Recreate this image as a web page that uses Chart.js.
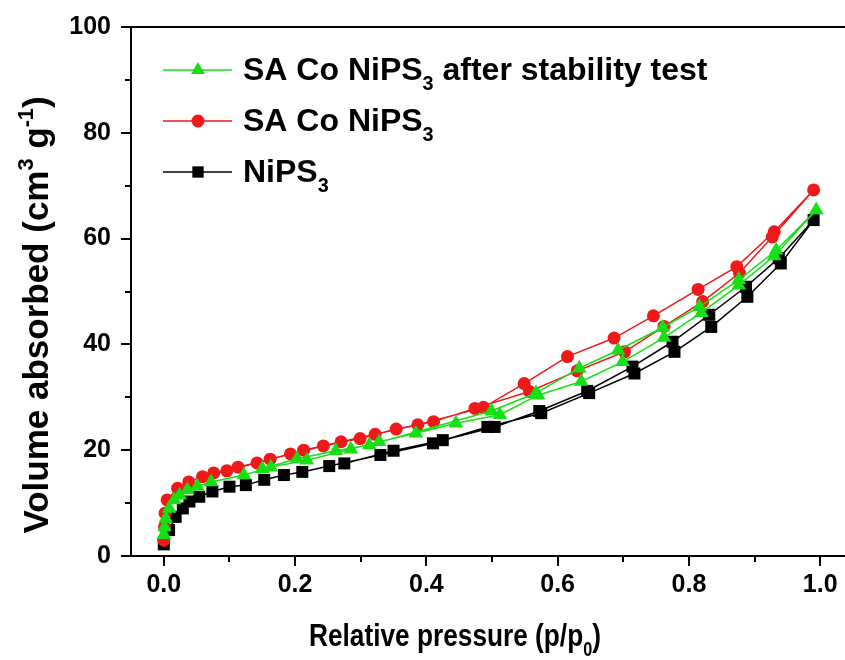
<!DOCTYPE html>
<html>
<head>
<meta charset="utf-8">
<script src="https://cdn.jsdelivr.net/npm/chart.js@4.4.0/dist/chart.umd.min.js"></script>
<style>
  html, body { margin: 0; padding: 0; background: #fff; overflow: hidden; }
  #isoChart { position: absolute; left: 0; top: 0; }
</style>
</head>
<body>
<canvas id="isoChart" width="880" height="660"></canvas>
<script>
// isotherm data, adsorption branch then desorption branch (p/p0, cm3/g)
const stabPressure = [0.0, 0.001, 0.003, 0.008, 0.016, 0.024, 0.036, 0.051, 0.072, 0.122, 0.163, 0.218, 0.285, 0.328, 0.384, 0.445, 0.512, 0.570, 0.636, 0.699, 0.762, 0.819, 0.876, 0.930, 0.994,
  0.933, 0.876, 0.816, 0.760, 0.692, 0.633, 0.567, 0.499, 0.313, 0.262, 0.203, 0.150];
const stabVolume = [4.0, 5.5, 7.1, 9.0, 10.6, 11.5, 12.5, 13.2, 14.0, 15.3, 16.8, 18.1, 20.2, 21.6, 23.2, 25.1, 26.7, 30.4, 33.0, 36.7, 41.3, 46.0, 51.2, 56.7, 65.4,
  57.8, 52.2, 47.1, 43.2, 38.9, 35.5, 30.8, 27.4, 21.0, 19.9, 18.4, 16.5];

const coPressure = [0.0, 0.001, 0.002, 0.005, 0.021, 0.038, 0.059, 0.096, 0.142, 0.193, 0.243, 0.299, 0.354, 0.411, 0.474, 0.557, 0.630, 0.702, 0.762, 0.821, 0.877, 0.927, 0.990,
  0.930, 0.873, 0.814, 0.746, 0.686, 0.615, 0.549, 0.487, 0.387, 0.322, 0.270, 0.213, 0.162, 0.113, 0.076];
const coVolume = [3.0, 5.5, 8.1, 10.6, 12.8, 14.0, 15.0, 16.1, 17.6, 19.3, 20.8, 22.2, 24.0, 25.4, 27.9, 31.1, 35.0, 38.6, 43.4, 48.1, 53.5, 60.3, 69.2,
  61.3, 54.7, 50.4, 45.4, 41.2, 37.7, 32.6, 28.1, 24.8, 23.0, 21.6, 20.0, 18.3, 16.8, 15.7];

const niPressure = [0.0, 0.008, 0.018, 0.029, 0.039, 0.054, 0.074, 0.100, 0.125, 0.153, 0.183, 0.211, 0.252, 0.330, 0.410, 0.493, 0.575, 0.648, 0.717, 0.778, 0.834, 0.889, 0.940, 0.990,
  0.937, 0.887, 0.831, 0.775, 0.714, 0.645, 0.572, 0.504, 0.425, 0.350, 0.275];
const niVolume = [2.2, 4.9, 7.4, 9.0, 10.3, 11.2, 12.2, 13.1, 13.4, 14.4, 15.3, 15.9, 17.0, 19.1, 21.3, 24.4, 27.0, 30.8, 34.5, 38.6, 43.3, 49.0, 55.3, 63.5,
  56.3, 50.9, 45.6, 40.5, 35.8, 31.2, 27.4, 24.4, 21.9, 19.9, 17.5];

const xTickValues = [0, 0.2, 0.4, 0.6, 0.8, 1.0];
const xMinorValues = [0.1, 0.3, 0.5, 0.7, 0.9];
const yTickValues = [0, 20, 40, 60, 80, 100];
const yMinorValues = [10, 30, 50, 70, 90];

const FONT = '"Liberation Sans", Arial, sans-serif';
const GREEN = "#14e014";
const RED = "#f01818";

function toPoints(xs, ys) {
  return xs.map((x, i) => ({ x: x, y: ys[i] }));
}

// text with sub/superscripts, optionally squeezed horizontally
function drawRich(ctx, parts, x, y, size, align, sx) {
  sx = sx || 1;
  let total = 0;
  parts.forEach(p => {
    ctx.font = "bold " + (p.sub || p.sup ? size * 0.62 : size) + "px " + FONT;
    total += ctx.measureText(p.t).width;
  });
  ctx.save();
  ctx.translate(x, y);
  ctx.scale(sx, 1);
  let cx = align === "center" ? -total / 2 : 0;
  ctx.textAlign = "left";
  ctx.textBaseline = "alphabetic";
  parts.forEach(p => {
    ctx.font = "bold " + (p.sub || p.sup ? size * 0.62 : size) + "px " + FONT;
    let dy = 0;
    if (p.sub) dy = size * 0.3;
    if (p.sup) dy = -size * 0.42;
    ctx.fillText(p.t, cx, dy);
    cx += ctx.measureText(p.t).width;
  });
  ctx.restore();
}

const legendItems = [
  { color: GREEN, style: "triangle", radius: 8, parts: [{ t: "SA Co NiPS" }, { t: "3", sub: true }, { t: " after stability test" }] },
  { color: RED, style: "circle", radius: 6.5, parts: [{ t: "SA Co NiPS" }, { t: "3", sub: true }] },
  { color: "#000", style: "rect", radius: 8, parts: [{ t: "NiPS" }, { t: "3", sub: true }] }
];

const decorPlugin = {
  id: "decor",
  afterDraw(chart) {
    const { ctx, chartArea, scales } = chart;
    const xs = scales.x, ys = scales.y;
    ctx.save();
    ctx.strokeStyle = "#000";
    ctx.lineWidth = 2;
    ctx.beginPath();
    ctx.moveTo(chartArea.left - 1, chartArea.top);
    ctx.lineTo(chart.width, chartArea.top);
    ctx.stroke();

    ctx.beginPath();
    xMinorValues.forEach(v => {
      const px = Math.round(xs.getPixelForValue(v));
      ctx.moveTo(px, chartArea.bottom);
      ctx.lineTo(px, chartArea.bottom + 6);
    });
    yMinorValues.forEach(v => {
      const py = Math.round(ys.getPixelForValue(v));
      ctx.moveTo(chartArea.left, py);
      ctx.lineTo(chartArea.left - 6, py);
    });
    ctx.stroke();

    ctx.fillStyle = "#000";
    // axis titles
    drawRich(ctx, [{ t: "Relative pressure (p/p" }, { t: "0", sub: true }, { t: ")" }], 455, 646, 32, "center", 0.82);
    ctx.save();
    ctx.translate(48, 315);
    ctx.rotate(-Math.PI / 2);
    drawRich(ctx, [{ t: "Volume absorbed (cm" }, { t: "3", sup: true }, { t: " g" }, { t: "-1", sup: true }, { t: ")" }], 0, 0, 35, "center");
    ctx.restore();

    // legend
    legendItems.forEach((item, i) => {
      const y = 70 + i * 51;
      ctx.strokeStyle = item.color;
      ctx.lineWidth = 1.5;
      ctx.beginPath();
      ctx.moveTo(163, y);
      ctx.lineTo(232, y);
      ctx.stroke();
      ctx.fillStyle = item.color;
      Chart.helpers.drawPoint(ctx, { pointStyle: item.style, radius: item.radius, borderWidth: 0, rotation: 0 }, 198, y);
      ctx.fillStyle = "#000";
      drawRich(ctx, item.parts, 243, y + 10, 32, "left");
    });
    ctx.restore();
  }
};

function makeSet(label, xs, ys, color, style, radius, order) {
  return {
    label: label,
    data: toPoints(xs, ys),
    showLine: true,
    borderColor: color,
    borderWidth: 1.5,
    backgroundColor: color,
    pointBackgroundColor: color,
    pointBorderColor: color,
    pointBorderWidth: 0,
    pointStyle: style,
    pointRadius: radius,
    pointHoverRadius: radius,
    tension: 0,
    order: order
  };
}

const chartCanvas = document.getElementById("isoChart");
const isoChart = new Chart(chartCanvas, {
  type: "scatter",
  data: {
    datasets: [
      makeSet("SA Co NiPS3 after stability test", stabPressure, stabVolume, GREEN, "triangle", 8.5, 0),
      makeSet("SA Co NiPS3", coPressure, coVolume, RED, "circle", 6.5, 1),
      makeSet("NiPS3", niPressure, niVolume, "#000", "rect", 8.5, 2)
    ]
  },
  options: {
    responsive: false,
    animation: false,
    layout: { padding: { left: 0, top: 27, right: 27, bottom: 0 } },
    plugins: {
      legend: { display: false },
      tooltip: { enabled: false }
    },
    scales: {
      x: {
        type: "linear",
        min: -0.05,
        max: 1.05,
        afterBuildTicks: scale => { scale.ticks = xTickValues.map(v => ({ value: v })); },
        afterFit: scale => { scale.height = 104; },
        border: { display: true, color: "#000", width: 2 },
        grid: { display: true, drawOnChartArea: false, drawTicks: true, tickLength: 10, color: "#000", lineWidth: 2 },
        ticks: {
          color: "#000",
          padding: 4,
          maxRotation: 0,
          font: { family: FONT, size: 25, weight: "bold" },
          callback: v => v.toFixed(1)
        }
      },
      y: {
        type: "linear",
        min: 0,
        max: 100,
        afterBuildTicks: scale => { scale.ticks = yTickValues.map(v => ({ value: v })); },
        afterFit: scale => { scale.width = 131; },
        border: { display: true, color: "#000", width: 2 },
        grid: { display: true, drawOnChartArea: false, drawTicks: true, tickLength: 10, color: "#000", lineWidth: 2 },
        ticks: {
          color: "#000",
          padding: 10,
          font: { family: FONT, size: 25, weight: "bold" }
        }
      }
    }
  },
  plugins: [decorPlugin]
});
</script>
</body>
</html>
